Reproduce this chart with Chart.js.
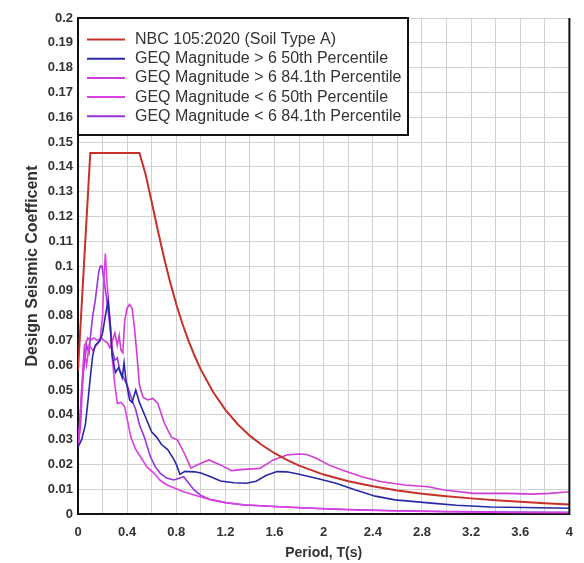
<!DOCTYPE html>
<html>
<head>
<meta charset="utf-8">
<title>Design Seismic Coefficient</title>
<script src="https://cdn.jsdelivr.net/npm/chart.js@4.4.1/dist/chart.umd.min.js"></script>
<style>
    body { margin: 0; background: #fff; }
</style>
</head>
<body>
<canvas id="spectra" width="584" height="563"></canvas>
<script>
// SERIES NAMES / COLORS
var seriesNames = [
    'NBC 105:2020 (Soil Type A)',
    'GEQ Magnitude > 6 50th Percentile',
    'GEQ Magnitude > 6 84.1th Percentile',
    'GEQ Magnitude < 6 50th Percentile',
    'GEQ Magnitude < 6 84.1th Percentile'
];
var seriesColors = ['#c8302a', '#2a28a8', '#d23cd6', '#e03ee8', '#9a34dc'];

// NBC 105:2020 SPECTRUM
var nbcT = [0, 0.1, 0.5, 0.55, 0.6, 0.65, 0.7, 0.75, 0.8, 0.85, 0.9, 0.95, 1.0, 1.1, 1.2, 1.3, 1.4, 1.5, 1.6, 1.7, 1.8, 2.0, 2.2, 2.4, 2.6, 2.8, 3.0, 3.2, 3.4, 3.6, 3.8, 4.0];
var nbcC = [0.058, 0.1456, 0.1456, 0.1370, 0.1258, 0.1143, 0.1034, 0.0935, 0.0846, 0.0767, 0.0698, 0.0637, 0.0582, 0.0492, 0.0420, 0.0362, 0.0315, 0.0277, 0.0245, 0.0218, 0.0195, 0.0159, 0.0132, 0.0112, 0.0095, 0.0082, 0.0072, 0.0063, 0.0055, 0.0049, 0.0043, 0.0038];

// GEQ MAGNITUDE > 6, 50TH
var above50T = [0, 0.03, 0.06, 0.08, 0.1, 0.12, 0.14, 0.16, 0.18, 0.2, 0.223, 0.245, 0.265, 0.278, 0.305, 0.33, 0.36, 0.375, 0.39, 0.42, 0.44, 0.47, 0.5, 0.55, 0.6, 0.64, 0.68, 0.73, 0.78, 0.8, 0.83, 0.87, 0.95, 1.0, 1.08, 1.16, 1.27, 1.37, 1.45, 1.53, 1.62, 1.7, 1.8, 1.94, 2.1, 2.26, 2.42, 2.58, 2.74, 2.9, 3.08, 3.36, 3.62, 4.0];
var above50C = [0.027, 0.03, 0.036, 0.045, 0.055, 0.064, 0.068, 0.069, 0.07, 0.073, 0.08, 0.086, 0.075, 0.064, 0.057, 0.059, 0.055, 0.061, 0.054, 0.046, 0.045, 0.05, 0.045, 0.039, 0.033, 0.031, 0.028, 0.026, 0.022, 0.02, 0.016, 0.0172, 0.017, 0.0165, 0.015, 0.0133, 0.0126, 0.0124, 0.0132, 0.0155, 0.0171, 0.017, 0.016, 0.0144, 0.0124, 0.0097, 0.0072, 0.0057, 0.005, 0.0043, 0.0035, 0.0028, 0.0026, 0.0023];

// GEQ MAGNITUDE > 6, 84.1TH
var above84T = [0, 0.02, 0.04, 0.055, 0.08, 0.1, 0.13, 0.16, 0.19, 0.21, 0.24, 0.26, 0.28, 0.3, 0.32, 0.335, 0.35, 0.365, 0.38, 0.4, 0.42, 0.44, 0.46, 0.48, 0.5, 0.53, 0.57, 0.61, 0.65, 0.7, 0.76, 0.81, 0.865, 0.92, 0.97, 1.065, 1.16, 1.25, 1.35, 1.48, 1.59, 1.7, 1.8, 1.86, 1.94, 2.04, 2.15, 2.31, 2.47, 2.66, 2.85, 2.98, 3.22, 3.49, 3.7, 3.84, 4.0];
var above84C = [0.027, 0.035, 0.055, 0.068, 0.071, 0.07, 0.071, 0.07, 0.071, 0.07, 0.069, 0.067, 0.07, 0.073, 0.068, 0.072, 0.066, 0.065, 0.078, 0.083, 0.0845, 0.083, 0.075, 0.064, 0.052, 0.047, 0.046, 0.0466, 0.0446, 0.037, 0.031, 0.0298, 0.0245, 0.0185, 0.0198, 0.0218, 0.0198, 0.0175, 0.018, 0.0184, 0.0218, 0.0238, 0.0242, 0.024, 0.0225, 0.0198, 0.0177, 0.015, 0.013, 0.0117, 0.011, 0.0097, 0.0083, 0.0083, 0.008, 0.0083, 0.009];

// GEQ MAGNITUDE < 6, 50TH
var below50T = [0, 0.02, 0.035, 0.05, 0.07, 0.09, 0.12, 0.15, 0.18, 0.2, 0.212, 0.223, 0.235, 0.25, 0.265, 0.28, 0.3, 0.32, 0.35, 0.38, 0.43, 0.47, 0.51, 0.56, 0.62, 0.67, 0.725, 0.8, 0.86, 0.945, 1.08, 1.2, 1.35, 1.6, 1.9, 2.2, 2.6, 3.0, 3.5, 4.0];
var below50C = [0.027, 0.04, 0.055, 0.066, 0.06, 0.068, 0.066, 0.068, 0.07, 0.08, 0.096, 0.105, 0.094, 0.085, 0.075, 0.062, 0.052, 0.0446, 0.045, 0.0433, 0.031, 0.026, 0.023, 0.019, 0.0164, 0.0135, 0.0117, 0.0102, 0.009, 0.0077, 0.0058, 0.0046, 0.0037, 0.003, 0.0023, 0.0017, 0.0012, 0.0009, 0.0006, 0.0005];

// GEQ MAGNITUDE < 6, 84.1TH
var below84T = [0, 0.03, 0.05, 0.07, 0.09, 0.1, 0.12, 0.14, 0.155, 0.17, 0.183, 0.195, 0.21, 0.23, 0.25, 0.265, 0.28, 0.3, 0.32, 0.34, 0.37, 0.4, 0.44, 0.47, 0.5, 0.54, 0.59, 0.63, 0.67, 0.72, 0.78, 0.83, 0.86, 0.9, 0.945, 1.0, 1.08, 1.2, 1.35, 1.6, 1.86, 2.2, 2.6, 3.0, 3.5, 4.0];
var below84C = [0.027, 0.05, 0.06, 0.068, 0.065, 0.071, 0.08, 0.086, 0.092, 0.098, 0.1, 0.1, 0.095, 0.088, 0.08, 0.073, 0.066, 0.062, 0.063, 0.058, 0.055, 0.052, 0.046, 0.042, 0.036, 0.031, 0.023, 0.019, 0.0164, 0.0145, 0.0137, 0.0145, 0.015, 0.0125, 0.0097, 0.0075, 0.0058, 0.0046, 0.0036, 0.003, 0.0024, 0.0018, 0.0013, 0.001, 0.0008, 0.0007];

// AXIS TICKS
var xTicks = [0, 0.2, 0.4, 0.6, 0.8, 1, 1.2, 1.4, 1.6, 1.8, 2, 2.2, 2.4, 2.6, 2.8, 3, 3.2, 3.4, 3.6, 3.8, 4];
var xTickLabels = ['0', '', '0.4', '', '0.8', '', '1.2', '', '1.6', '', '2', '', '2.4', '', '2.8', '', '3.2', '', '3.6', '', '4'];
var yTicks = [0, 0.01, 0.02, 0.03, 0.04, 0.05, 0.06, 0.07, 0.08, 0.09, 0.1, 0.11, 0.12, 0.13, 0.14, 0.15, 0.16, 0.17, 0.18, 0.19, 0.2];
var yTickLabels = ['0', '0.01', '0.02', '0.03', '0.04', '0.05', '0.06', '0.07', '0.08', '0.09', '0.1', '0.11', '0.12', '0.13', '0.14', '0.15', '0.16', '0.17', '0.18', '0.19', '0.2'];

var FONT = '"Liberation Sans", Arial, sans-serif';

function pairs(t, c){
    return t.map(function(v, i){ return { x: v, y: c[i] }; });
}

// LEGEND BOX INSIDE THE PLOT + RIGHT FRAME
var boxLegend = {
    id: 'boxLegend',
    afterDatasetsDraw: function(chart){
        var ctx = chart.ctx, a = chart.chartArea;
        ctx.save();
        // right edge of frame
        ctx.strokeStyle = '#111';
        ctx.lineWidth = 2;
        ctx.beginPath();
        ctx.moveTo(a.right, a.top);
        ctx.lineTo(a.right, a.bottom + 1);
        ctx.stroke();

        var x0 = a.left, y0 = a.top, w = 330, h = 117;
        ctx.fillStyle = '#fff';
        ctx.fillRect(x0, y0, w, h);
        ctx.strokeRect(x0, y0, w, h);
        ctx.font = '16px ' + FONT;
        ctx.textBaseline = 'middle';
        chart.data.datasets.forEach(function(ds, i){
            var y = y0 + 21.5 + i * 19.2;
            ctx.strokeStyle = ds.borderColor;
            ctx.lineWidth = 2;
            ctx.beginPath();
            ctx.moveTo(x0 + 9, y);
            ctx.lineTo(x0 + 47, y);
            ctx.stroke();
            ctx.fillStyle = '#333';
            ctx.fillText(ds.label, x0 + 57, y);
        });
        ctx.restore();
    }
};

// GRAPH
function graph(){
    var sets = [
        [nbcT, nbcC, 2],
        [above50T, above50C, 1.6],
        [above84T, above84C, 1.6],
        [below50T, below50C, 1.6],
        [below84T, below84C, 1.6]
    ];
    var ctx = document.getElementById('spectra').getContext('2d');
    new Chart(ctx, {
        type: 'line',
        data: {
            datasets: sets.map(function(s, i){
                return {
                    label: seriesNames[i],
                    data: pairs(s[0], s[1]),
                    borderColor: seriesColors[i],
                    backgroundColor: seriesColors[i],
                    borderWidth: s[2],
                    pointRadius: 0,
                    tension: 0,
                    fill: false
                };
            })
        },
        options: {
            responsive: false,
            animation: false,
            layout: { padding: { top: 18, right: 7, left: 0, bottom: 0 } },
            plugins: {
                legend: { display: false },
                tooltip: { enabled: false }
            },
            scales: {
                x: {
                    type: 'linear',
                    min: 0,
                    max: 4,
                    afterBuildTicks: function(scale){
                        scale.ticks = xTicks.map(function(v){ return { value: v }; });
                    },
                    afterFit: function(scale){ scale.height = 49; },
                    ticks: {
                        autoSkip: false,
                        maxRotation: 0,
                        padding: 11,
                        color: '#333',
                        font: { family: FONT, size: 13, weight: 'bold' },
                        callback: function(v){
                            var i = xTicks.indexOf(v);
                            return i < 0 ? '' : xTickLabels[i];
                        }
                    },
                    grid: { color: '#d0d0d0', lineWidth: 1, drawTicks: false },
                    border: { color: '#111', width: 2 },
                    title: {
                        display: true,
                        text: 'Period, T(s)',
                        color: '#333',
                        font: { family: FONT, size: 14, weight: 'bold' },
                        padding: { top: 0, bottom: 1 }
                    }
                },
                y: {
                    min: 0,
                    max: 0.2,
                    afterBuildTicks: function(scale){
                        scale.ticks = yTicks.map(function(v){ return { value: v }; });
                    },
                    afterFit: function(scale){ scale.width = 78; },
                    ticks: {
                        autoSkip: false,
                        padding: 5,
                        color: '#333',
                        font: { family: FONT, size: 13, weight: 'bold' },
                        callback: function(v){
                            var i = yTicks.indexOf(v);
                            return i < 0 ? '' : yTickLabels[i];
                        }
                    },
                    grid: { color: '#d0d0d0', lineWidth: 1, drawTicks: false },
                    border: { color: '#111', width: 2 },
                    title: {
                        display: true,
                        text: 'Design Seismic Coefficent',
                        color: '#333',
                        font: { family: FONT, size: 16, weight: 'bold' },
                        padding: { top: 23, bottom: 0 }
                    }
                }
            }
        },
        plugins: [boxLegend]
    });
}
// GRAPH

graph();
</script>
</body>
</html>
